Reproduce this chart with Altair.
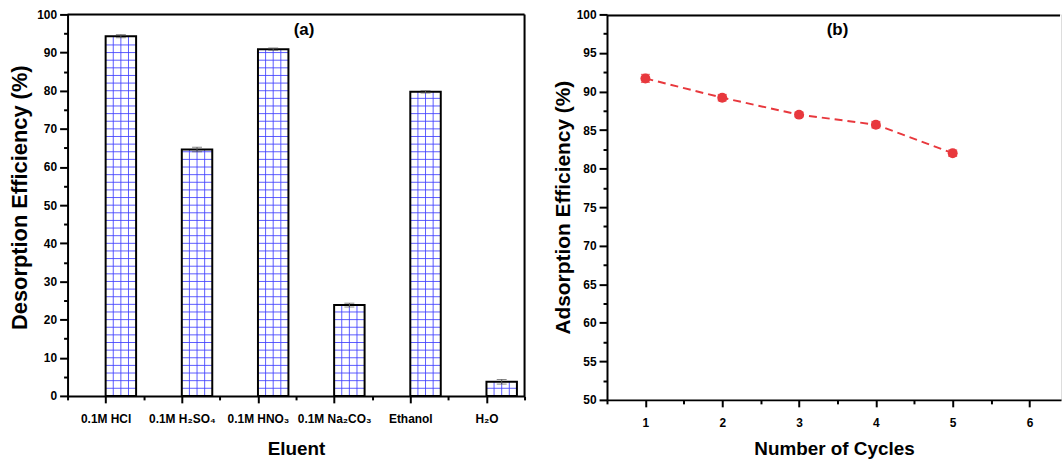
import altair as alt
import pandas as pd
import json

# ---------------- data ----------------
eluents = ["0.1M HCl", "0.1M H\u2082SO\u2084", "0.1M HNO\u2083", "0.1M Na\u2082CO\u2083", "Ethanol", "H\u2082O"]
eluent_pos = [1, 2, 3, 4, 5, 6]
desorption = [94.3, 64.6, 90.9, 23.8, 79.7, 3.7]
desorption_err = [0.4, 0.6, 0.3, 0.5, 0.3, 0.6]

cycles = [1, 2, 3, 4, 5]
adsorption = [91.7, 89.2, 87.0, 85.7, 82.0]
adsorption_err = [0.5, 0.4, 0.3, 0.4, 0.4]

x_ticks_a = [0.5, 1, 1.5, 2, 2.5, 3, 3.5, 4, 4.5, 5, 5.5, 6, 6.5]
y_ticks_a = [0, 5, 10, 15, 20, 25, 30, 35, 40, 45, 50, 55, 60, 65, 70, 75, 80, 85, 90, 95, 100]
x_ticks_b = [0.5, 1, 1.5, 2, 2.5, 3, 3.5, 4, 4.5, 5, 5.5, 6]
y_ticks_b = [50, 52.5, 55, 57.5, 60, 62.5, 65, 67.5, 70, 72.5, 75, 77.5, 80, 82.5, 85, 87.5, 90, 92.5, 95, 97.5, 100]

FONT = "Liberation Sans"
BLUE = "#4040ff"
RED = "#e8383d"
BAR_W = 0.4

bar_df = pd.DataFrame({"pos": eluent_pos, "eluent": eluents, "value": desorption, "err": desorption_err})
bar_df["pos2"] = bar_df["pos"] + BAR_W
bar_df["mid"] = bar_df["pos"] + BAR_W / 2
bar_df["lo"] = bar_df["value"] - bar_df["err"]
bar_df["hi"] = bar_df["value"] + bar_df["err"]
bar_df["zero"] = 0.0

# hatch (grid pattern inside bars)
h_rows = []
for p, v in zip(eluent_pos, desorption):
    lvl = 2
    while lvl < v - 0.3:
        h_rows.append({"pos": p, "pos2": p + BAR_W, "level": lvl})
        lvl += 2
h_df = pd.DataFrame(h_rows)
v_rows = []
for p, v in zip(eluent_pos, desorption):
    for f in (0.1, 0.2, 0.3):
        v_rows.append({"xp": p + f, "value": v, "zero": 0.0})
v_df = pd.DataFrame(v_rows)

line_df = pd.DataFrame({"cycle": cycles, "eff": adsorption, "err": adsorption_err})
line_df["lo"] = line_df["eff"] - line_df["err"]
line_df["hi"] = line_df["eff"] + line_df["err"]

one_a = pd.DataFrame({"t": ["a"]})
one_b = pd.DataFrame({"t": ["b"]})

# ---------------- axes ----------------
common = dict(
    grid=False, domainColor="black", domainWidth=2, tickColor="black", tickWidth=2,
    labelFont=FONT, labelFontSize=12, labelFontWeight="bold", labelColor="black",
    titleFont=FONT, titleFontWeight="bold", titleColor="black",
    labelOverlap=False, labelFlush=False,
)

names_js = json.dumps(eluents, ensure_ascii=False)
axis_xa = alt.Axis(
    title="Eluent", values=x_ticks_a,
    labelExpr=f"datum.value % 1 === 0 ? {names_js}[datum.value - 1] : ''",
    tickSize={"condition": {"test": "datum.value % 1 === 0", "value": 7}, "value": 4},
    labelPadding=11, titlePadding=15, titleFontSize=19, **common)
axis_ya = alt.Axis(
    title="Desorption Efficiency (%)", values=y_ticks_a,
    labelExpr="datum.value % 10 === 0 ? datum.label : ''",
    tickSize={"condition": {"test": "datum.value % 10 === 0", "value": 8}, "value": 4},
    labelPadding=3, titlePadding=4, minExtent=32, maxExtent=32, titleY=184,
    titleFontSize=22, **common)
axis_xb = alt.Axis(
    title="Number of Cycles", values=x_ticks_b, orient="bottom",
    labelExpr="datum.value % 1 === 0 ? '' + datum.value : ''",
    tickSize={"condition": {"test": "datum.value % 1 === 0", "value": 7}, "value": 4},
    labelPadding=11, titlePadding=11, titleFontSize=19, **common)
axis_yb = alt.Axis(
    title="Adsorption Efficiency (%)", values=y_ticks_b,
    labelExpr="datum.value % 5 === 0 ? datum.label : ''",
    tickSize={"condition": {"test": "datum.value % 5 === 0", "value": 8}, "value": 4},
    labelPadding=3, titlePadding=2, minExtent=32, maxExtent=32,
    titleFontSize=21, **common)

sc_xa = alt.Scale(domain=[0.5, 6.5], nice=False, zero=False)
sc_ya = alt.Scale(domain=[0, 100], nice=False)
sc_xb = alt.Scale(domain=[0.5, 6.41], nice=False, zero=False)
sc_yb = alt.Scale(domain=[50, 100], nice=False, zero=False)

def XA(f):
    return alt.X(f, type="quantitative", scale=sc_xa, axis=axis_xa)

def YA(f):
    return alt.Y(f, type="quantitative", scale=sc_ya, axis=axis_ya)

def XB(f):
    return alt.X(f, type="quantitative", scale=sc_xb, axis=axis_xb)

def YB(f):
    return alt.Y(f, type="quantitative", scale=sc_yb, axis=axis_yb)

WA, HA = 460, 384
WB, HB = 457, 388

# ---------------- panel (a) ----------------
bars_fill = alt.Chart(bar_df).mark_rect(fill="white").encode(
    x=XA("pos"), x2="pos2", y=YA("value"), y2="zero")
hatch_h = alt.Chart(h_df).mark_rule(color=BLUE, strokeWidth=1, opacity=0.85).encode(
    x=XA("pos"), x2="pos2", y=YA("level"))
hatch_v = alt.Chart(v_df).mark_rule(color=BLUE, strokeWidth=1, opacity=0.85).encode(
    x=XA("xp"), y=YA("value"), y2="zero")
bars_edge = alt.Chart(bar_df).mark_rect(fillOpacity=0, stroke="black", strokeWidth=2).encode(
    x=XA("pos"), x2="pos2", y=YA("value"), y2="zero")
err_a = alt.Chart(bar_df).mark_errorbar(
    color="#555555", thickness=1, ticks=alt.MarkConfig(size=10, color="#555555")).encode(
    x=XA("mid"), y=YA("lo"), y2="hi")
frame_top_a = alt.Chart(one_a).mark_rule(color="black", strokeWidth=2).encode(
    x=alt.value(0), x2=alt.value(WA), y=alt.value(0))
frame_right_a = alt.Chart(one_a).mark_rule(color="black", strokeWidth=2).encode(
    x=alt.value(WA), y=alt.value(0), y2=alt.value(HA))
label_a = alt.Chart(pd.DataFrame({"t": ["(a)"]})).mark_text(
    font=FONT, fontSize=17, fontWeight="bold", color="black", baseline="middle").encode(
    x=alt.value(238), y=alt.value(16), text="t:N")

panel_a = alt.layer(bars_fill, hatch_h, hatch_v, bars_edge, err_a,
                    frame_top_a, frame_right_a, label_a).properties(width=WA, height=HA)

# ---------------- panel (b) ----------------
frame_top_b = alt.Chart(one_b).mark_rect(color="black", fill="black", opacity=1).encode(
    x=alt.value(0), x2=alt.value(WB - 1), y=alt.value(0), y2=alt.value(2))
line_b = alt.Chart(line_df).mark_line(color=RED, strokeWidth=2, strokeDash=[8, 5]).encode(
    x=XB("cycle"), y=YB("eff"))
err_b = alt.Chart(line_df).mark_errorbar(
    color=RED, thickness=1.5, ticks=alt.MarkConfig(size=9, color=RED)).encode(
    x=XB("cycle"), y=YB("lo"), y2="hi")
pts_b = alt.Chart(line_df).mark_circle(color=RED, size=100, opacity=1).encode(
    x=XB("cycle"), y=YB("eff"))
label_b = alt.Chart(pd.DataFrame({"t": ["(b)"]})).mark_text(
    font=FONT, fontSize=17, fontWeight="bold", color="black", baseline="middle").encode(
    x=alt.value(232), y=alt.value(16), text="t:N")

panel_b = alt.layer(frame_top_b, line_b, err_b, pts_b, label_b).properties(
    width=WB, height=HB)

chart = alt.hconcat(panel_a, panel_b, spacing=25).properties(
    padding={"left": 8, "top": 6, "right": 0, "bottom": 0}
).configure_view(strokeWidth=0).configure(background="white")

chart.save("out.html", embed_options={"renderer": "svg", "actions": False})
